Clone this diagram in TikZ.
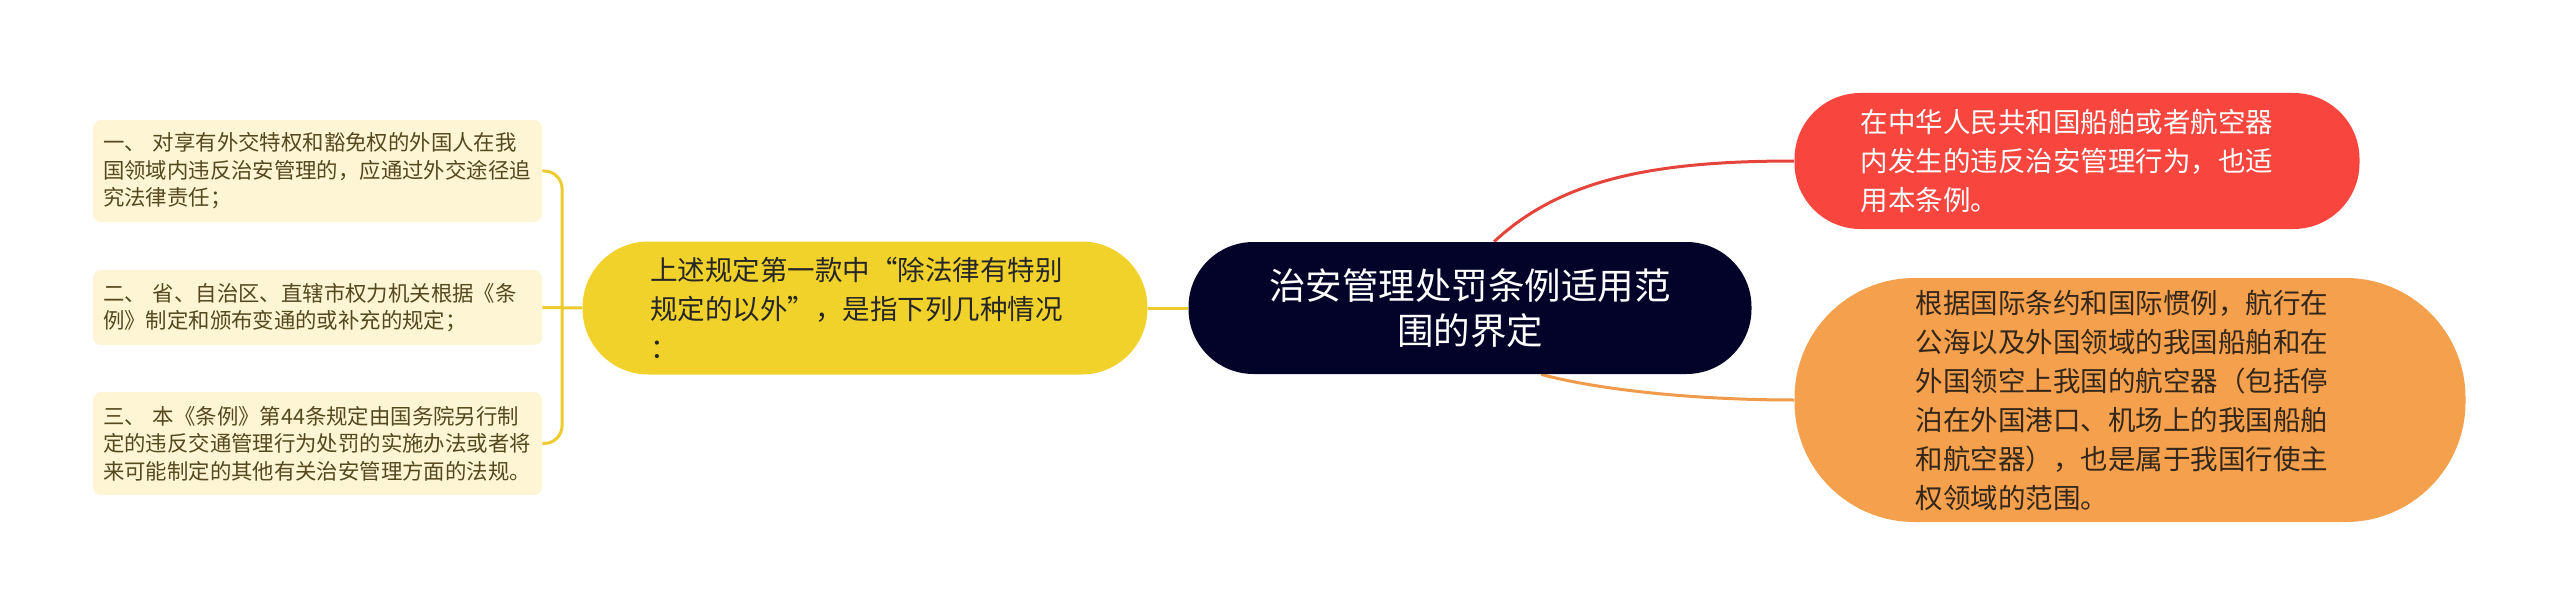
\documentclass[tikz,border=0pt]{standalone}
\usepackage{fontspec}
\setmainfont{Noto Sans CJK SC}
\usetikzlibrary{backgrounds}

\definecolor{rootfill}{HTML}{03032A}
\definecolor{ylwfill}{HTML}{F1D22B}
\definecolor{ylwline}{HTML}{EDCB2C}
\definecolor{ylwtext}{HTML}{262626}
\definecolor{redfill}{HTML}{F8463E}
\definecolor{redline}{HTML}{E5443B}
\definecolor{orgfill}{HTML}{F4A04C}
\definecolor{orgline}{HTML}{F09B4B}
\definecolor{orgtext}{HTML}{33261A}
\definecolor{leaffill}{HTML}{FDF5D3}
\definecolor{leaftext}{HTML}{55481F}

\begin{document}
\begin{tikzpicture}[x=0.5pt,y=-0.5pt,
    topic/.style={inner sep=0pt,align=left,text width=215pt,font=\fontsize{13.75pt}{19.5pt}\selectfont},
    leaf/.style={fill=leaffill,text=leaftext,rounded corners=4pt,inner sep=0pt,text width=214.5pt,
      minimum width=224.5pt,align=left,font=\fontsize{10.7pt}{13.75pt}\selectfont},
    link/.style={line width=1.5pt}]
    \useasboundingbox (0,0) rectangle (2560,615);

    % centre and first level
    \node[fill=rootfill,text=white,rounded corners=32.5pt,inner sep=0pt,minimum width=281.5pt,
      minimum height=66pt,align=center,font=\fontsize{18.25pt}{22.5pt}\selectfont]
      (root) at (1470,308) {治安管理处罚条例适用范\\围的界定};
    \node[topic,fill=ylwfill,text=ylwtext,rounded corners=33pt,minimum width=282.5pt,minimum height=66.5pt]
      (ylw) at (865,308) {上述规定第一款中“除法律有特别\\规定的以外”，是指下列几种情况\\：};
    \node[topic,fill=redfill,text=white,rounded corners=33pt,minimum width=282.5pt,minimum height=68pt,
      text width=216.5pt] (red) at (2077,161) {在中华人民共和国船舶或者航空器\\内发生的违反治安管理行为，也适\\用本条例。};
    \node[topic,fill=orgfill,text=orgtext,rounded corners=60pt,minimum width=335.5pt,minimum height=122pt,
      text width=214.5pt] (org) at (2130,400) {根据国际条约和国际惯例，航行在\\公海以及外国领域的我国船舶和在\\外国领空上我国的航空器（包括停\\泊在外国港口、机场上的我国船舶\\和航空器），也是属于我国行使主\\权领域的范围。};

    % leaves of the yellow topic
    \node[leaf,minimum height=51pt] (l1) at (317.5,171)
      {一、 对享有外交特权和豁免权的外国人在我\\国领域内违反治安管理的，应通过外交途径追\\究法律责任；};
    \node[leaf,minimum height=37.5pt] (l2) at (317.5,307.5)
      {二、 省、自治区、直辖市权力机关根据《条\\例》制定和颁布变通的或补充的规定；};
    \node[leaf,minimum height=51.5pt] (l3) at (317.5,443.5)
      {三、 本《条例》第44条规定由国务院另行制\\定的违反交通管理行为处罚的实施办法或者将\\来可能制定的其他有关治安管理方面的法规。};

    \path (ylw.west) ++(-20,0) coordinate (jn);

    \begin{scope}[on background layer]
        \draw[link,draw=redline] (root.70) to[out=43,in=180,out looseness=0.75,in looseness=1.17] (red.west);
        \draw[link,draw=orgline] (root.-43) to[out=-15,in=180,out looseness=0.6] (org.west);
        \draw[link,draw=ylwline] (ylw.east) -- (root.west);
        \draw[link,draw=ylwline] (ylw.west) -- (l2.east);
        \draw[link,draw=ylwline,rounded corners=9pt] (jn) |- (l1.east);
        \draw[link,draw=ylwline,rounded corners=9pt] (jn) |- (l3.east);
    \end{scope}
\end{tikzpicture}
\end{document}
